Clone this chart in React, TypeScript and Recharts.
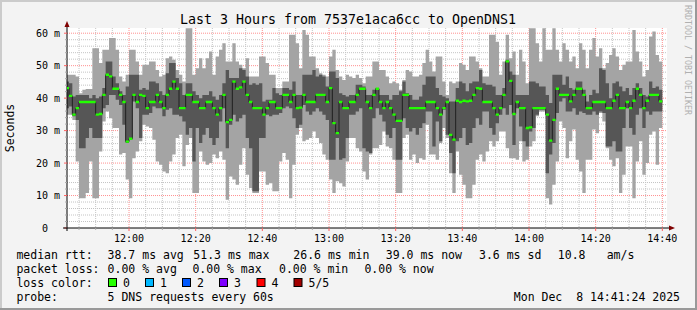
import React from 'react';
import { ComposedChart, Area, Line, XAxis, YAxis, CartesianGrid } from 'recharts';

// one column per minute, first column is 11:41
const firstMinute = 11 * 60 + 41;

// 5 sorted pings per step: max, 4th, median, 2nd, min (ms)
const maxRtt = [
  47.2, 47.2, 47.2, 46.7, 41.5, 42.6, 42.8, 42.8, 55.4, 55.4,
  50.8, 54.9, 54.9, 58.5, 58.5, 54.9, 46.7, 45.1, 47.2, 54.9,
  54.9, 51.3, 47.2, 50.3, 50.3, 51.3, 51.3, 48.7, 46.7, 47.2,
  52.3, 52.8, 51.8, 48.7, 47.2, 45.1, 61.5, 61.5, 47.2, 49.2,
  52.3, 49.2, 52.3, 54.4, 47.2, 52.8, 54.9, 56.9, 51.3, 51.3,
  56.9, 51.3, 50.3, 49.2, 52.3, 46.7, 46.7, 46.7, 52.8, 52.8,
  50.8, 47.2, 47.2, 43.1, 43.1, 45.1, 45.1, 59.5, 59.5, 56.9,
  49.2, 61.0, 59.5, 52.8, 52.8, 49.2, 47.7, 47.2, 46.7, 52.8,
  54.9, 48.7, 46.7, 45.6, 47.2, 46.7, 46.2, 47.2, 46.2, 44.6,
  46.7, 46.7, 51.3, 51.3, 48.7, 48.7, 46.7, 44.6, 45.1, 44.6,
  42.6, 45.6, 48.7, 48.2, 46.7, 46.7, 47.2, 50.8, 54.9, 51.3,
  48.2, 52.8, 52.8, 45.1, 41.0, 45.1, 44.6, 45.1, 50.8, 50.3,
  48.7, 52.8, 52.8, 51.3, 49.2, 46.7, 46.7, 59.5, 59.5, 57.4,
  47.2, 51.3, 59.5, 52.3, 54.4, 47.2, 54.9, 51.3, 44.6, 61.5,
  61.5, 56.9, 51.3, 61.5, 54.9, 54.9, 61.5, 54.9, 51.3, 56.9,
  54.9, 51.3, 52.8, 49.2, 56.9, 54.9, 49.2, 54.9, 58.5, 52.8,
  55.4, 49.2, 50.8, 53.3, 55.4, 52.8, 48.7, 50.3, 51.3, 51.3,
  61.0, 54.4, 51.3, 46.7, 48.7, 59.0, 60.5, 53.3, 51.3,
];

const upperRtt = [
  45.1, 44.6, 40.5, 41.0, 41.0, 41.0, 41.0, 40.0, 41.0, 40.0,
  40.5, 43.1, 51.3, 51.3, 46.7, 44.6, 42.1, 41.0, 43.6, 47.2,
  47.2, 47.2, 42.6, 43.1, 42.6, 45.1, 45.1, 44.6, 42.1, 41.0,
  47.7, 50.8, 50.8, 46.2, 44.6, 41.0, 44.6, 44.6, 42.1, 41.0,
  40.0, 41.0, 41.0, 42.1, 40.5, 39.5, 41.0, 44.6, 48.7, 46.2,
  46.2, 46.2, 49.2, 48.7, 46.7, 44.1, 44.6, 44.1, 44.6, 39.0,
  39.5, 39.5, 43.1, 41.5, 41.0, 43.1, 43.1, 42.6, 45.1, 41.0,
  41.0, 47.2, 47.2, 47.2, 48.7, 46.7, 47.2, 46.7, 43.6, 48.2,
  48.2, 46.2, 41.5, 41.0, 40.5, 41.0, 41.0, 44.1, 44.1, 43.6,
  41.0, 41.0, 42.6, 43.1, 41.0, 41.0, 41.0, 39.5, 41.0, 41.0,
  42.1, 45.1, 41.5, 41.0, 39.5, 39.5, 40.5, 44.1, 46.7, 46.7,
  46.7, 43.1, 41.0, 40.5, 40.0, 39.0, 39.0, 43.1, 45.1, 44.6,
  42.1, 44.6, 45.1, 45.1, 48.7, 44.6, 44.1, 44.1, 43.6, 41.0,
  41.0, 43.1, 51.8, 48.2, 47.2, 41.0, 41.0, 41.0, 41.0, 45.1,
  45.1, 44.6, 43.6, 43.6, 41.0, 38.5, 47.2, 47.2, 47.2, 44.1,
  46.7, 43.1, 42.6, 45.1, 45.1, 42.6, 39.0, 41.0, 42.6, 41.5,
  49.2, 48.7, 44.6, 40.0, 44.6, 45.1, 43.6, 42.1, 43.1, 41.0,
  43.1, 44.6, 43.1, 41.0, 40.5, 45.1, 43.1, 43.6, 42.6,
];

const medianRtt = [
  43.1, 40.7, 34.9, 36.9, 38.8, 38.8, 38.8, 38.8, 38.8, 34.9,
  35.1, 41.0, 47.2, 46.7, 42.9, 42.9, 41.0, 38.8, 26.6, 27.5,
  41.0, 38.8, 41.0, 40.7, 36.9, 38.8, 38.8, 41.0, 38.8, 36.9,
  41.0, 42.9, 45.1, 42.9, 36.9, 36.9, 41.0, 41.0, 38.8, 38.8,
  36.9, 36.9, 38.8, 38.8, 36.9, 34.9, 36.9, 41.0, 32.6, 33.3,
  45.1, 42.9, 43.3, 45.1, 41.0, 38.8, 36.9, 36.9, 36.9, 34.9,
  36.9, 38.8, 38.8, 36.9, 36.9, 41.0, 41.0, 38.8, 41.0, 36.9,
  37.1, 41.0, 38.8, 38.8, 38.8, 41.0, 41.0, 41.0, 38.8, 43.1,
  32.3, 29.2, 38.8, 36.9, 36.9, 38.8, 38.8, 41.0, 42.9, 42.9,
  38.8, 36.9, 41.0, 42.9, 38.8, 36.9, 38.8, 36.9, 34.9, 33.0,
  33.0, 41.0, 41.0, 36.9, 36.9, 36.9, 36.9, 36.9, 38.8, 38.8,
  38.8, 36.9, 34.9, 36.9, 38.8, 28.7, 27.2, 39.2, 38.8, 39.2,
  39.0, 39.2, 41.0, 43.1, 42.9, 38.8, 38.8, 38.8, 36.9, 34.9,
  36.9, 41.0, 51.3, 45.3, 35.1, 38.8, 36.9, 36.9, 30.8, 31.0,
  36.9, 36.9, 36.9, 36.9, 34.9, 26.9, 33.3, 42.9, 41.0, 41.0,
  41.0, 39.0, 41.0, 42.9, 42.9, 41.0, 36.9, 36.9, 38.8, 38.8,
  38.8, 38.8, 36.9, 36.9, 39.2, 41.0, 36.9, 36.9, 38.8, 36.9,
  39.2, 42.9, 41.0, 36.9, 39.2, 41.0, 41.0, 41.0, 39.0,
];

const lowerRtt = [
  36.9, 37.4, 34.4, 33.3, 24.6, 24.6, 27.7, 30.8, 27.7, 27.7,
  27.7, 36.9, 37.9, 41.0, 41.0, 39.5, 37.9, 31.8, 26.2, 27.2,
  39.0, 36.9, 27.7, 34.9, 34.9, 35.4, 37.4, 36.9, 36.9, 34.4,
  36.4, 36.9, 34.9, 34.9, 34.4, 32.8, 28.7, 30.8, 20.5, 30.8,
  26.2, 28.7, 30.8, 27.7, 25.6, 27.7, 32.8, 36.9, 24.6, 31.8,
  34.9, 32.8, 33.8, 34.9, 27.7, 24.6, 11.3, 11.3, 27.7, 27.7,
  34.9, 34.4, 34.9, 34.9, 35.4, 36.9, 37.4, 36.9, 33.8, 30.8,
  31.8, 37.9, 35.9, 34.9, 35.9, 36.9, 35.9, 34.9, 33.3, 21.0,
  21.0, 27.7, 21.0, 21.5, 27.7, 34.9, 34.9, 35.9, 36.9, 24.6,
  23.6, 23.1, 33.8, 36.9, 34.9, 32.8, 28.7, 27.7, 30.8, 21.0,
  21.0, 33.8, 30.8, 29.7, 30.8, 28.7, 30.8, 32.3, 35.9, 35.9,
  25.1, 32.8, 26.7, 36.4, 28.7, 23.1, 16.9, 26.7, 27.7, 30.8,
  25.6, 26.2, 30.8, 33.8, 31.8, 35.9, 35.9, 30.8, 28.7, 32.3,
  34.9, 36.9, 34.9, 37.9, 25.6, 36.9, 31.3, 26.7, 25.1, 29.7,
  30.8, 34.9, 36.4, 36.4, 16.9, 22.6, 26.2, 35.4, 39.0, 40.0,
  35.9, 35.9, 36.9, 34.9, 35.9, 35.4, 34.9, 34.9, 35.9, 34.9,
  35.9, 35.4, 25.1, 25.1, 26.7, 23.6, 23.6, 30.8, 36.9, 30.8,
  28.7, 34.9, 36.9, 30.8, 35.9, 34.9, 35.9, 35.9, 35.9,
];

const minRtt = [
  34.9, 34.9, 33.3, 20.5, 9.2, 9.2, 10.8, 20.5, 9.2, 9.2,
  23.6, 32.8, 35.9, 33.8, 30.8, 30.8, 22.6, 23.1, 14.9, 9.2,
  21.5, 23.6, 26.7, 31.8, 31.3, 30.8, 27.2, 20.5, 19.5, 17.4,
  16.9, 20.5, 22.6, 27.7, 28.7, 19.0, 25.6, 27.7, 10.8, 10.8,
  23.6, 20.5, 19.5, 20.0, 22.6, 21.5, 23.6, 21.0, 8.7, 15.9,
  14.9, 13.3, 19.5, 24.6, 16.4, 12.3, 10.8, 10.8, 17.4, 17.4,
  13.3, 13.8, 11.3, 11.3, 20.5, 23.1, 21.0, 9.2, 19.5, 28.7,
  30.8, 26.7, 27.2, 27.7, 29.7, 27.7, 26.2, 22.6, 21.0, 14.9,
  10.8, 14.4, 13.8, 12.8, 20.5, 27.7, 27.7, 24.6, 23.6, 17.4,
  14.9, 22.6, 24.6, 24.6, 25.6, 29.7, 25.1, 24.6, 21.0, 10.8,
  10.8, 27.7, 28.7, 21.0, 22.6, 20.0, 21.5, 21.0, 31.8, 22.6,
  22.6, 21.0, 26.2, 30.8, 27.7, 16.9, 10.8, 23.6, 16.4, 13.3,
  9.2, 9.2, 13.3, 21.0, 22.6, 20.5, 23.6, 26.7, 25.1, 26.7,
  29.7, 29.7, 24.6, 21.5, 21.5, 21.0, 26.7, 20.5, 21.0, 25.1,
  26.7, 34.4, 35.9, 35.9, 9.2, 7.2, 13.3, 20.5, 32.8, 30.8,
  21.5, 26.7, 30.3, 21.0, 17.4, 10.8, 21.0, 21.0, 30.3, 29.2,
  35.4, 32.8, 24.6, 21.0, 19.0, 21.5, 10.8, 16.4, 25.1, 25.1,
  9.2, 20.5, 26.7, 16.4, 20.0, 28.7, 29.7, 19.5, 30.8,
];

const xGridTicks: number[] = [];
for (let t = 705; t <= 880; t += 5) xGridTicks.push(t);
const xMajor = xGridTicks.filter((t) => t % 20 === 0);
const xMinor = xGridTicks.filter((t) => t % 20 !== 0);
const yGridTicks: number[] = [];
for (let v = 0; v <= 60; v += 2) yGridTicks.push(v);
const yMajor = yGridTicks.filter((v) => v > 0 && v % 10 === 0);
const yMinor = yGridTicks.filter((v) => v > 0 && v % 10 !== 0);

const lossColors = [
  { label: '0', color: '#26ff00', x: 108 },
  { label: '1', color: '#00b8ff', x: 145 },
  { label: '2', color: '#0059ff', x: 182 },
  { label: '3', color: '#7e00ff', x: 219 },
  { label: '4', color: '#ff0000', x: 256.5 },
  { label: '5/5', color: '#a10000', x: 293.5 },
];

const rows = medianRtt.map((m, i) => ({
  t: firstMinute + i,
  mx: maxRtt[i],
  up: upperRtt[i],
  med: m,
  lo: lowerRtt[i],
  mn: minRtt[i],
}));
// closing point so the last step gets its width
rows.push({ ...rows[rows.length - 1], t: firstMinute + rows.length });

const MONO = "'DejaVu Sans Mono', monospace";
const medianHalf = 0.36;

const fmtTime = (t: number) => `${Math.floor(t / 60)}:${String(t % 60).padStart(2, '0')}`;

const XTick = (props: any) => {
  const { x, y, payload } = props;
  const t = payload.value;
  const major = t % 20 === 0;
  return (
    <g>
      <line x1={x} x2={x} y1={y} y2={y + (major ? 3 : 2)} stroke={major ? '#ff6060' : '#aaa'} />
      {major && (
        <text x={x} y={y + 13.5} textAnchor="middle" fontSize={10} fontFamily={MONO} fill="#000">
          {fmtTime(t)}
        </text>
      )}
    </g>
  );
};

const YTick = (props: any) => {
  const { x, y, payload } = props;
  const v = payload.value;
  const major = v % 10 === 0;
  return (
    <g>
      <line x1={x - (major ? 3 : 2)} x2={x} y1={y} y2={y} stroke={major ? '#ff6060' : '#aaa'} />
      {major && (
        <text x={v === 0 ? x - 19 : x - 7} y={y + 3.5} textAnchor="end" fontSize={10} fontFamily={MONO} fill="#000">
          {v === 0 ? '0' : `${v} m`}
        </text>
      )}
    </g>
  );
};

const legendLines = [
  { y: 258.5, parts: [
    [16.4, 'median rtt:'], [107.6, '38.7 ms avg'], [193.3, '51.3 ms max'], [293.3, '26.6 ms min'],
    [385.8, '39.0 ms now'], [479, '3.6 ms sd'], [557.8, '10.8'], [606.7, 'am/s'],
  ] },
  { y: 272.5, parts: [
    [16.4, 'packet loss:'], [107.6, '0.00 % avg'], [192.4, '0.00 % max'], [279, '0.00 % min'], [364.4, '0.00 % now'],
  ] },
  { y: 286.5, parts: [[16.4, 'loss color:']] },
  { y: 300.5, parts: [[16.4, 'probe:'], [107.6, '5 DNS requests every 60s']] },
];

export default function App() {
  return (
    <div style={{ position: 'absolute', left: 0, top: 0, width: 697, height: 310, background: '#f3f3f3' }}>
      <ComposedChart width={697} height={310} data={rows} margin={{ top: 28, right: 30, bottom: 0, left: 0 }}>
        <CartesianGrid
          fill="#ffffff"
          stroke="#c4c4c4"
          strokeDasharray="1 1"
          horizontalValues={yMinor}
          verticalValues={xMinor}
        />
        <CartesianGrid
          stroke="#ff9090"
          strokeDasharray="1 1"
          horizontalValues={yMajor}
          verticalValues={xMajor}
        />
        <XAxis
          dataKey="t"
          type="number"
          domain={[firstMinute + 0.4, firstMinute + 180.4]}
          allowDataOverflow
          ticks={xGridTicks}
          interval={0}
          height={82}
          tickSize={0}
          tickMargin={0}
          tickLine={false}
          axisLine={{ stroke: '#000' }}
          tick={<XTick />}
        />
        <YAxis
          type="number"
          domain={[0, 61.6]}
          allowDataOverflow
          ticks={yGridTicks}
          interval={0}
          width={67}
          tickSize={0}
          tickMargin={0}
          tickLine={false}
          axisLine={{ stroke: '#000' }}
          tick={<YTick />}
        />
        <Area
          type="stepAfter"
          dataKey={(d: any) => [d.mn, d.mx]}
          fill="#a4a4a4"
          fillOpacity={1}
          stroke="none"
          isAnimationActive={false}
          activeDot={false}
        />
        <Area
          type="stepAfter"
          dataKey={(d: any) => [d.lo, d.up]}
          fill="#565656"
          fillOpacity={1}
          stroke="none"
          isAnimationActive={false}
          activeDot={false}
        />
        <Line
          type="stepAfter"
          dataKey="med"
          stroke="#202020"
          strokeWidth={1}
          dot={false}
          activeDot={false}
          isAnimationActive={false}
          zIndex={150}
        />
        <Area
          type="stepAfter"
          dataKey={(d: any) => [d.med - medianHalf, d.med + medianHalf]}
          fill="#22ff00"
          fillOpacity={1}
          stroke="none"
          isAnimationActive={false}
          activeDot={false}
          zIndex={600}
        />
      </ComposedChart>

      <svg width={697} height={310} style={{ position: 'absolute', left: 0, top: 0, pointerEvents: 'none' }}>
        <line x1={0} y1={1} x2={697} y2={1} stroke="#cbcbcb" strokeWidth={2} />
        <line x1={1} y1={0} x2={1} y2={310} stroke="#cbcbcb" strokeWidth={2} />
        <line x1={0} y1={309} x2={697} y2={309} stroke="#999999" strokeWidth={2} />
        <line x1={696} y1={0} x2={696} y2={310} stroke="#999999" strokeWidth={2} />

        <text x={348} y={24} textAnchor="middle" fontSize={13.3} fontFamily={MONO} fill="#000">
          Last 3 Hours from 7537e1aca6cc to OpenDNS1
        </text>
        <text x={14} y={128} textAnchor="middle" fontSize={11.5} fontFamily={MONO} fill="#000" transform="rotate(-90 14 128)">
          Seconds
        </text>
        <text x={684.5} y={5} fontSize={8.3} fontFamily={MONO} fill="#b0b0b0" transform="rotate(90 684.5 5)">
          RRDTOOL / TOBI OETIKER
        </text>

        <line x1={67} y1={228} x2={67} y2={231} stroke="#000" />
        <line x1={67} y1={28} x2={67} y2={26} stroke="#000" />
        <polygon points="64.5,27 69.5,27 67,21" fill="#7f0000" />
        <line x1={63} y1={228} x2={67} y2={228} stroke="#000" />
        <line x1={667} y1={228} x2={669} y2={228} stroke="#000" />
        <polygon points="669,225.5 669,230.5 675,228" fill="#7f0000" />

        {legendLines.map((ln, i) => (
          <g key={i}>
            {ln.parts.map(([x, s], j) => (
              <text key={j} x={x as number} y={ln.y} fontSize={11.5} fontFamily={MONO} fill="#000" style={{ whiteSpace: 'pre' }}>
                {s as string}
              </text>
            ))}
          </g>
        ))}
        {lossColors.map((c) => (
          <g key={c.label}>
            <rect x={c.x + 0.5} y={278.5} width={8} height={8} fill={c.color} stroke="#000" />
            <text x={c.x + 15} y={286.5} fontSize={11.5} fontFamily={MONO} fill="#000">
              {c.label}
            </text>
          </g>
        ))}
        <text x={680} y={300.5} textAnchor="end" fontSize={11.5} fontFamily={MONO} fill="#000" style={{ whiteSpace: 'pre' }}>
          {'Mon Dec  8 14:41:24 2025'}
        </text>
      </svg>
    </div>
  );
}
